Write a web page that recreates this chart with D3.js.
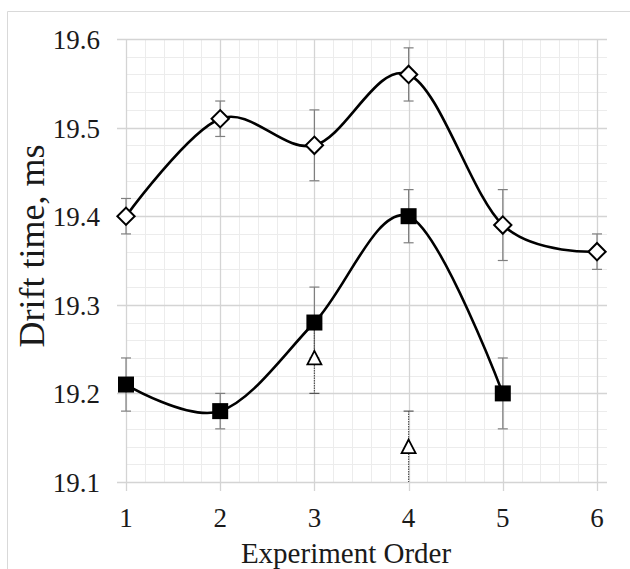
<!DOCTYPE html>
<html>
<head>
<meta charset="utf-8">
<script src="https://cdn.jsdelivr.net/npm/d3@7"></script>
<style>
  body { margin:0; background:#fff; }
  text { font-family: "Liberation Serif", "Times New Roman", serif; fill:#1a1a1a; }
</style>
</head>
<body>
<div id="chart"></div>
<script>
// experiment order
var order = [1, 2, 3, 4, 5, 6];
// open diamonds
var diamondVals = [19.40, 19.51, 19.48, 19.56, 19.39, 19.36];
var diamondErr  = [0.02, 0.02, 0.04, 0.03, 0.04, 0.02];
// filled squares
var squareX    = [1, 2, 3, 4, 5];
var squareVals = [19.21, 19.18, 19.28, 19.40, 19.20];
var squareErr  = [0.03, 0.02, 0.04, 0.03, 0.04];
// open triangles (no line)
var triX    = [3, 4];
var triVals = [19.24, 19.14];
var triErr  = [0.04, 0.04];

var yTicks = [19.1, 19.2, 19.3, 19.4, 19.5, 19.6];

var width = 630, height = 569;

var svg = d3.select("#chart").append("svg")
    .attr("width", width)
    .attr("height", height);

// outer frame
svg.append("path")
   .attr("d", "M7.5," + height + "V11.5H" + width)
   .attr("fill", "none")
   .attr("stroke", "#d9d9d9");

var x = d3.scaleLinear().domain([1, 6]).range([126, 597]);
var y = d3.scaleLinear().domain([19.1, 19.6]).range([482, 39]);
var gridRight = 607;

var g = svg.append("g");

// minor grid
var minorY = d3.range(19.1, 19.6001, 0.02).filter(function(v){ return Math.abs(Math.round(v*10) - v*10) > 1e-6; });
g.selectAll(".minorY").data(minorY).enter().append("line")
  .attr("x1", x(1)).attr("x2", gridRight)
  .attr("y1", function(d){ return Math.round(y(d)) + 0.5; })
  .attr("y2", function(d){ return Math.round(y(d)) + 0.5; })
  .attr("stroke", "#ececec");
var minorX = d3.range(1, 6.0001, 0.2).filter(function(v){ return Math.abs(Math.round(v) - v) > 1e-6; });
g.selectAll(".minorX").data(minorX).enter().append("line")
  .attr("y1", y(19.1)).attr("y2", y(19.6))
  .attr("x1", function(d){ return Math.round(x(d)) + 0.5; })
  .attr("x2", function(d){ return Math.round(x(d)) + 0.5; })
  .attr("stroke", "#ececec");

// major grid (with outside ticks)
g.selectAll(".majorY").data(yTicks).enter().append("line")
  .attr("x1", x(1) - 9).attr("x2", gridRight)
  .attr("y1", function(d){ return Math.round(y(d)) + 0.5; })
  .attr("y2", function(d){ return Math.round(y(d)) + 0.5; })
  .attr("stroke", "#d4d4d4").attr("stroke-width", 1.3);
g.selectAll(".majorX").data(order).enter().append("line")
  .attr("y1", y(19.1) + 9).attr("y2", y(19.6))
  .attr("x1", function(d){ return Math.round(x(d)) + 0.5; })
  .attr("x2", function(d){ return Math.round(x(d)) + 0.5; })
  .attr("stroke", "#d4d4d4").attr("stroke-width", 1.3);

// tick labels
g.selectAll(".ylab").data(yTicks).enter().append("text")
  .attr("x", 100).attr("y", function(d){ return y(d) + 10; })
  .attr("text-anchor", "end").attr("font-size", 27)
  .text(function(d){ return d3.format(".1f")(d); });
g.selectAll(".xlab").data(order).enter().append("text")
  .attr("x", function(d){ return x(d); }).attr("y", y(19.1) + 45)
  .attr("text-anchor", "middle").attr("font-size", 27)
  .text(function(d){ return d; });

// axis titles
svg.append("text")
  .attr("x", 346).attr("y", 563)
  .attr("text-anchor", "middle").attr("font-size", 29)
  .text("Experiment Order");
svg.append("text")
  .attr("transform", "translate(44,246) rotate(-90)")
  .attr("text-anchor", "middle").attr("font-size", 36)
  .text("Drift time, ms");

// error bars
function errorBars(xs, vals, errs, dotted, capTop, capBottom) {
  var eg = g.append("g").attr("stroke", dotted ? "#555" : "#7f7f7f").attr("stroke-width", 1.2);
  xs.forEach(function(xv, i) {
    var cx = x(xv), t = y(vals[i] + errs[i]), b = y(Math.max(19.1, vals[i] - errs[i]));
    eg.append("line").attr("x1", cx).attr("x2", cx).attr("y1", t).attr("y2", b)
      .attr("stroke-dasharray", dotted ? "1.5,1" : null);
    if (capTop) eg.append("line").attr("x1", cx - 5).attr("x2", cx + 5).attr("y1", t).attr("y2", t);
    if (capBottom && vals[i] - errs[i] > 19.1) eg.append("line").attr("x1", cx - 5).attr("x2", cx + 5).attr("y1", b).attr("y2", b);
  });
}
errorBars(order, diamondVals, diamondErr, false, true, true);
errorBars(squareX, squareVals, squareErr, false, true, true);
errorBars(triX, triVals, triErr, true, true, true);

// smooth lines
var line = d3.line()
  .x(function(d){ return x(d[0]); })
  .y(function(d){ return y(d[1]); })
  .curve(d3.curveCardinal.tension(0));

g.append("path")
  .datum(d3.zip(order, diamondVals))
  .attr("d", line).attr("fill", "none").attr("stroke", "#000").attr("stroke-width", 2.6);
g.append("path")
  .datum(d3.zip(squareX, squareVals))
  .attr("d", line).attr("fill", "none").attr("stroke", "#000").attr("stroke-width", 2.6);

// markers
g.selectAll(".diamond").data(d3.zip(order, diamondVals)).enter().append("path")
  .attr("d", d3.symbol().type(d3.symbolSquare).size(150))
  .attr("transform", function(d){ return "translate(" + x(d[0]) + "," + y(d[1]) + ") rotate(45)"; })
  .attr("fill", "#fff").attr("stroke", "#000").attr("stroke-width", 2);
g.selectAll(".square").data(d3.zip(squareX, squareVals)).enter().append("rect")
  .attr("x", function(d){ return x(d[0]) - 8; })
  .attr("y", function(d){ return y(d[1]) - 8; })
  .attr("width", 16).attr("height", 16)
  .attr("fill", "#000");
g.selectAll(".tri").data(d3.zip(triX, triVals)).enter().append("path")
  .attr("d", "M0,-7L7,6.5H-7Z")
  .attr("transform", function(d){ return "translate(" + x(d[0]) + "," + y(d[1]) + ")"; })
  .attr("fill", "#fff").attr("stroke", "#000").attr("stroke-width", 1.8);
</script>
</body>
</html>
